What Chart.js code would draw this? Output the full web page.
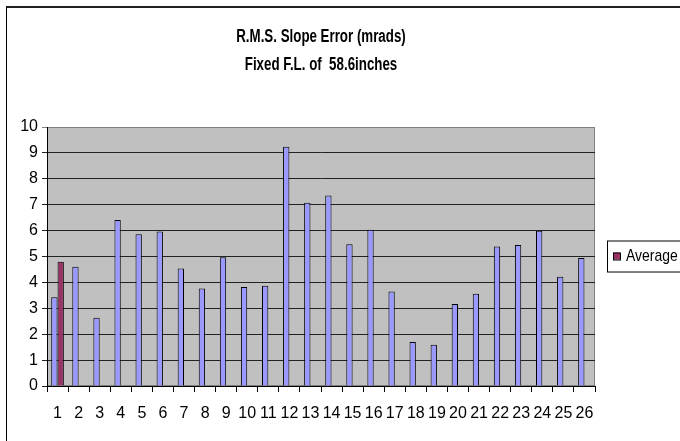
<!DOCTYPE html>
<html>
<head>
<meta charset="utf-8">
<script src="https://cdn.jsdelivr.net/npm/chart.js@4.4.0/dist/chart.umd.min.js"></script>
<style>
    html, body { margin: 0; padding: 0; background: #fff; overflow: hidden; width: 680px; height: 441px; }
    #frame { position: absolute; left: 6px; top: 6px; width: 760px; height: 520px; border-left: 1px solid #000; border-top: 2px solid #222; }
    #wrap { position: absolute; left: 0; top: 0; width: 700px; height: 441px; }
</style>
</head>
<body>
<div id="frame"></div>
<div id="wrap"><canvas id="myChart"></canvas></div>
<script>
const FONT = '"Liberation Sans", Arial, sans-serif';

const categories = ['1','2','3','4','5','6','7','8','9','10','11','12','13','14','15','16','17','18','19','20','21','22','23','24','25','26'];
const slopeError = [3.43, 4.6, 2.64, 6.41, 5.86, 5.97, 4.54, 3.76, 4.97, 3.82, 3.87, 9.24, 7.08, 7.36, 5.47, 6.03, 3.65, 1.70, 1.59, 3.17, 3.56, 5.39, 5.44, 5.99, 4.22, 4.94];
const average = [4.8, null, null, null, null, null, null, null, null, null, null, null, null, null, null, null, null, null, null, null, null, null, null, null, null, null];
const titleLines = ['R.M.S. Slope Error (mrads)', 'Fixed F.L. of  58.6inches'];
const yTicks = { min: 0, max: 10, step: 1 };

// the original uses a condensed face, squeeze the title horizontally
const TITLE_SQUEEZE = 0.74;

const excelLook = {
    id: 'excelLook',
    afterLayout(chart) {
        const tb = chart.titleBlock;
        if (!tb || tb._squeezed) return;
        tb._squeezed = true;
        const orig = tb.draw;
        tb.draw = function () {
            const c = this.ctx;
            const cx = (this.left + this.right) / 2;
            c.save();
            c.translate(cx, 0);
            c.scale(TITLE_SQUEEZE, 1);
            c.translate(-cx, 0);
            orig.apply(this, arguments);
            c.restore();
        };
    },
    beforeDraw(chart) {
        const {ctx, chartArea: a} = chart;
        ctx.save();
        ctx.fillStyle = '#C0C0C0';
        ctx.fillRect(a.left, a.top, a.right - a.left, a.bottom - a.top);
        ctx.strokeStyle = '#808080';
        ctx.lineWidth = 1;
        ctx.strokeRect(a.left + 0.5, a.top + 0.5, a.right - a.left - 1, a.bottom - a.top - 1);
        ctx.restore();
    },
    afterDraw(chart) {
        // legend box, only the Average series is listed
        const {ctx, chartArea: a} = chart;
        const ds = chart.data.datasets[1];
        const mid = (a.top + a.bottom) / 2;
        const x = a.right + 12;
        ctx.save();
        ctx.fillStyle = '#fff';
        ctx.fillRect(x, mid - 16, 90, 31);
        ctx.strokeStyle = '#000';
        ctx.lineWidth = 1;
        ctx.strokeRect(x + 0.5, mid - 16 + 0.5, 90, 31);
        ctx.fillStyle = ds.backgroundColor;
        ctx.fillRect(x + 6, mid - 4, 7, 7);
        ctx.strokeRect(x + 6.5, mid - 3.5, 7, 7);
        ctx.fillStyle = '#000';
        ctx.font = '17px ' + FONT;
        ctx.textBaseline = 'middle';
        ctx.translate(x + 19, mid);
        ctx.scale(0.82, 1);
        ctx.fillText(ds.label, 0, 0);
        ctx.restore();
    }
};

const ctx = document.getElementById('myChart').getContext('2d');

const data = {
    labels: categories,
    datasets: [
        {
            label: 'Slope Error',
            data: slopeError,
            backgroundColor: '#9999FF',
            borderColor: '#000',
            borderWidth: 1,
            categoryPercentage: 0.6,
            barPercentage: 1.0,
        },
        {
            label: 'Average',
            data: average,
            backgroundColor: '#993366',
            borderColor: '#000',
            borderWidth: 1,
            categoryPercentage: 0.6,
            barPercentage: 1.0,
        },
    ],
};

const config = {
    type: 'bar',
    data: data,
    options: {
        responsive: true,
        maintainAspectRatio: false,
        animation: false,
        layout: {
            padding: { left: 0, right: 105, top: 0, bottom: 0 }
        },
        plugins: {
            legend: { display: false },
            tooltip: { enabled: false },
            title: {
                display: true,
                fullSize: false,
                text: titleLines,
                color: '#000',
                font: { family: FONT, size: 18, weight: 'bold', lineHeight: 1.556 },
                padding: { top: 23.5, bottom: 47.5 }
            },
        },
        scales: {
            x: {
                afterFit(scale) { scale.height = 55; },
                grid: {
                    display: true,
                    drawOnChartArea: false,
                    drawTicks: true,
                    tickLength: 6,
                    color: '#000',
                    offset: true,
                },
                border: { display: true, color: '#000', width: 1 },
                ticks: {
                    color: '#000',
                    font: { family: FONT, size: 16 },
                    maxRotation: 0,
                    autoSkip: false,
                    padding: 12,
                },
            },
            y: {
                min: yTicks.min,
                max: yTicks.max,
                afterFit(scale) { scale.width = 47; },
                grid: {
                    display: true,
                    drawTicks: true,
                    tickLength: 5,
                    color: (c) => c.tick && c.tick.value === yTicks.max ? '#808080' : '#222',
                },
                border: { display: true, color: '#000', width: 1 },
                ticks: {
                    stepSize: yTicks.step,
                    color: '#000',
                    font: { family: FONT, size: 16 },
                    padding: 4,
                },
            },
        },
    },
    plugins: [excelLook],
};

new Chart(ctx, config);
</script>
</body>
</html>
